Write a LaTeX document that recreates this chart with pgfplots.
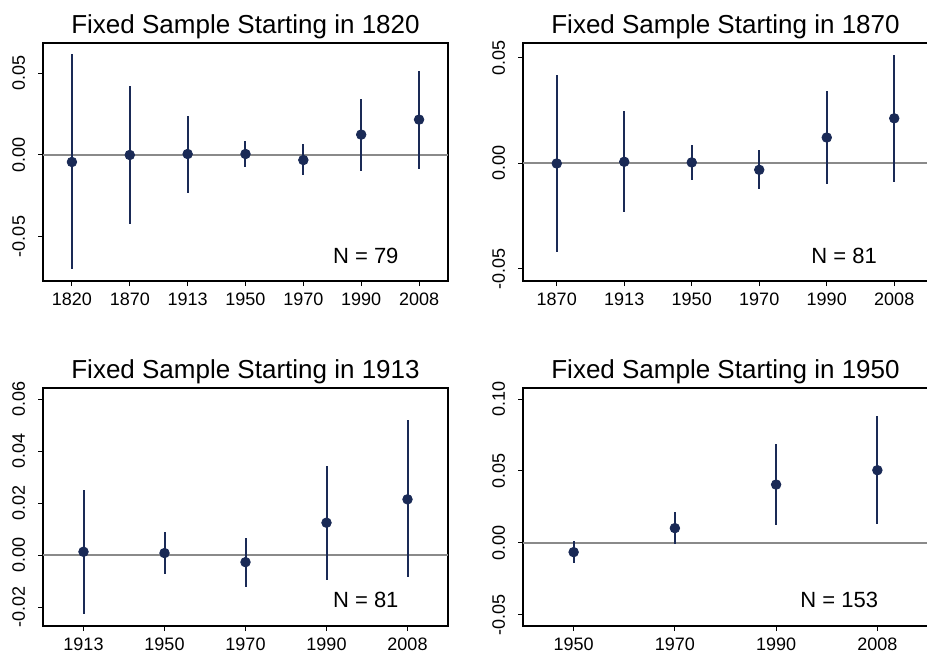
\documentclass[border=0pt]{standalone}
\usepackage{fontspec}
\setmainfont{Liberation Sans}
\usepackage{pgfplots}
\pgfplotsset{compat=1.18}
\usepackage{pgfplotstable}
\definecolor{navy}{HTML}{1A2A56}
\definecolor{zline}{HTML}{8A8A8A}

\pgfplotstableread{
x y lo hi
0 -0.0043 -0.0699 0.0617
1 0.0000 -0.0426 0.0422
2 0.0006 -0.0236 0.0242
3 0.0006 -0.0076 0.0086
4 -0.0031 -0.0125 0.0066
5 0.0125 -0.0096 0.0346
6 0.0217 -0.0084 0.0518
}\tA
\pgfplotstableread{
x y lo hi
0 0.0000 -0.0419 0.0419
1 0.0008 -0.0229 0.0250
2 0.0005 -0.0076 0.0087
3 -0.0030 -0.0123 0.0063
4 0.0123 -0.0095 0.0345
5 0.0214 -0.0089 0.0516
}\tB
\pgfplotstableread{
x y lo hi
0 0.0013 -0.0228 0.0251
1 0.0008 -0.0073 0.0089
2 -0.0027 -0.0121 0.0067
3 0.0125 -0.0094 0.0345
4 0.0215 -0.0086 0.0519
}\tC
\pgfplotstableread{
x y lo hi
0 -0.0065 -0.0140 0.0009
1 0.0102 -0.0007 0.0214
2 0.0405 0.0121 0.0688
3 0.0505 0.0133 0.0881
}\tD

\pgfplotsset{
  panel/.style={
    scale only axis, width=202.5pt, height=119pt,
    anchor=south west,
    axis line style={black, line width=0.7pt},
    tick align=outside, major tick length=2.5pt,
    tick style={black, line width=0.5pt},
    xtick pos=left, ytick pos=left,
    ticklabel style={font=\fontsize{9}{10}\selectfont},
    yticklabel style={rotate=90, anchor=south},
    yticklabel shift=3pt,
    y tick label style={/pgf/number format/.cd, fixed, fixed zerofill, precision=2, assume math mode=true},
    x tick label style={/pgf/number format/assume math mode=true},
    title style={font=\fontsize{13}{15}\selectfont, yshift=-7.5pt},
    scaled y ticks=false,
  },
  ebar/.style={
    only marks, mark=*, mark size=2.4pt, color=navy,
    mark options={fill=navy, draw=navy},
    error bars/.cd, y dir=both, y explicit,
    error mark=none,
    error bar style={navy, line width=1pt},
  },
}

\newcommand{\zeroline}{\draw[zline, line width=1pt] ({rel axis cs:0,0}|-{axis cs:0,0}) -- ({rel axis cs:1,0}|-{axis cs:0,0});}

\begin{document}
\begin{tikzpicture}
% Panel 1
\begin{axis}[panel, at={(21.5pt,187pt)},
  title={Fixed Sample Starting in 1820},
  xmin=-0.5, xmax=6.5, ymin=-0.0773, ymax=0.0687,
  xtick={0,...,6}, xticklabels={1820,1870,1913,1950,1970,1990,2008},
  ytick={-0.05,0,0.05}]
\zeroline
\addplot[ebar] table[x=x, y=y, y error plus expr=\thisrow{hi}-\thisrow{y}, y error minus expr=\thisrow{y}-\thisrow{lo}] {\tA};
\node[font=\fontsize{11}{13}\selectfont] at (rel axis cs:0.797,0.105) {N = 79};
\end{axis}
% Panel 2
\begin{axis}[panel, at={(261.5pt,187pt)},
  title={Fixed Sample Starting in 1870},
  xmin=-0.5, xmax=5.5, ymin=-0.0557, ymax=0.0571,
  xtick={0,...,5}, xticklabels={1870,1913,1950,1970,1990,2008},
  ytick={-0.05,0,0.05}]
\zeroline
\addplot[ebar] table[x=x, y=y, y error plus expr=\thisrow{hi}-\thisrow{y}, y error minus expr=\thisrow{y}-\thisrow{lo}] {\tB};
\node[font=\fontsize{11}{13}\selectfont] at (rel axis cs:0.793,0.105) {N = 81};
\end{axis}
% Panel 3
\begin{axis}[panel, at={(21.5pt,14.5pt)},
  title={Fixed Sample Starting in 1913},
  xmin=-0.5, xmax=4.5, ymin=-0.0273, ymax=0.0644,
  xtick={0,...,4}, xticklabels={1913,1950,1970,1990,2008},
  ytick={-0.02,0,0.02,0.04,0.06}]
\zeroline
\addplot[ebar] table[x=x, y=y, y error plus expr=\thisrow{hi}-\thisrow{y}, y error minus expr=\thisrow{y}-\thisrow{lo}] {\tC};
\node[font=\fontsize{11}{13}\selectfont] at (rel axis cs:0.797,0.109) {N = 81};
\end{axis}
% Panel 4
\begin{axis}[panel, at={(261.5pt,14.5pt)},
  title={Fixed Sample Starting in 1950},
  xmin=-0.5, xmax=3.5, ymin=-0.0579, ymax=0.1077,
  xtick={0,...,3}, xticklabels={1950,1970,1990,2008},
  ytick={-0.05,0,0.05,0.10}]
\zeroline
\addplot[ebar] table[x=x, y=y, y error plus expr=\thisrow{hi}-\thisrow{y}, y error minus expr=\thisrow{y}-\thisrow{lo}] {\tD};
\node[font=\fontsize{11}{13}\selectfont] at (rel axis cs:0.781,0.109) {N = 153};
\end{axis}
\pgfresetboundingbox
\path[use as bounding box] (0,0) rectangle (463.5pt,327.5pt);
\end{tikzpicture}
\end{document}
